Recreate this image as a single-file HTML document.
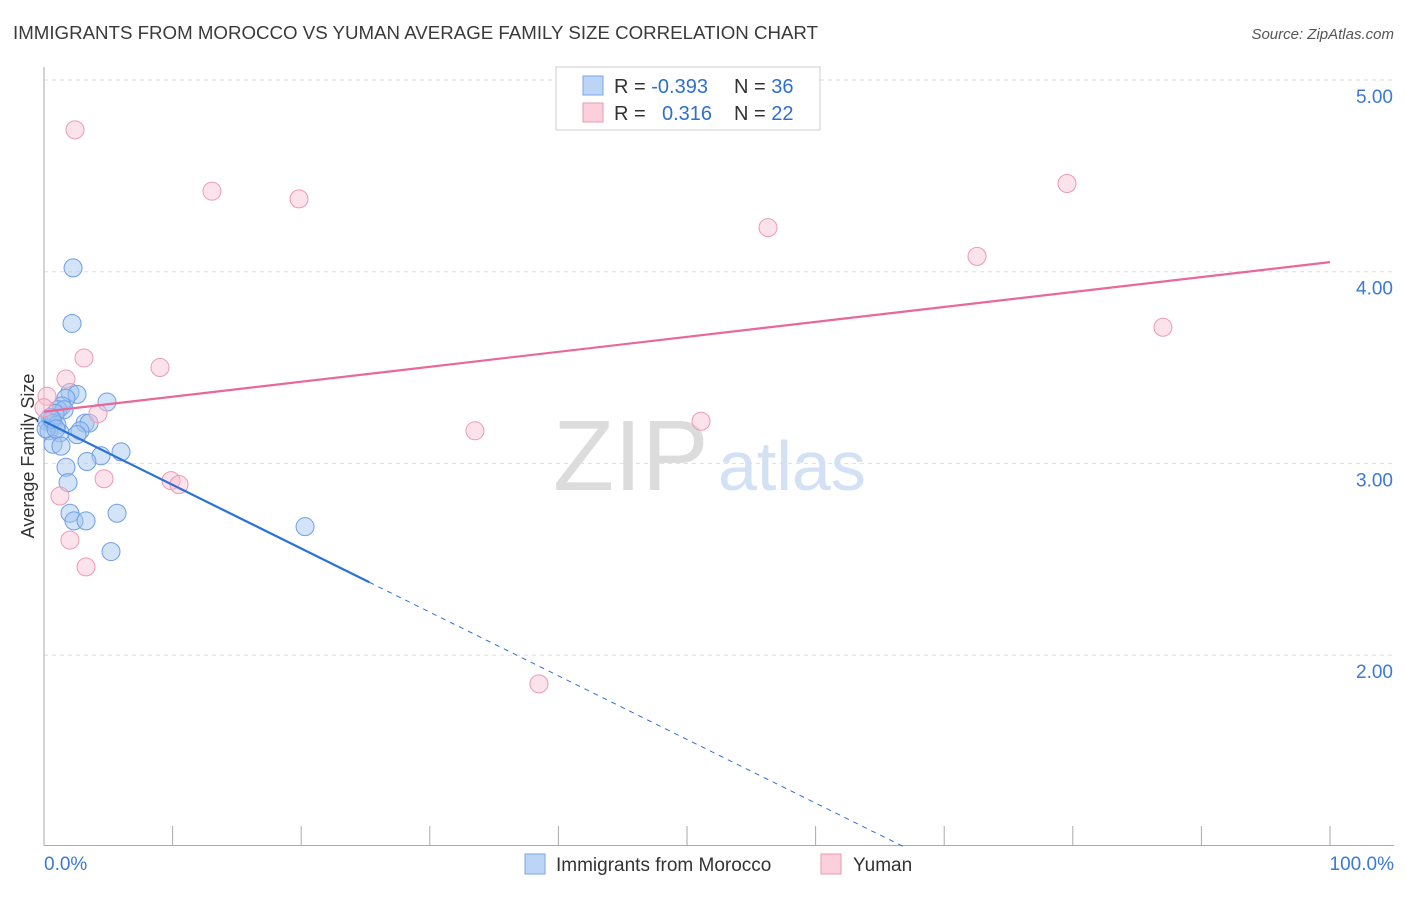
<!DOCTYPE html>
<html><head><meta charset="utf-8"><style>
body{margin:0;background:#fff;font-family:"Liberation Sans",sans-serif;}
svg text{font-family:"Liberation Sans",sans-serif;}
</style></head><body>
<svg id="chart" width="1406" height="892" xmlns="http://www.w3.org/2000/svg">
<text x="13" y="39" font-size="18" fill="#3a3a3a" textLength="805" lengthAdjust="spacingAndGlyphs">IMMIGRANTS FROM MOROCCO VS YUMAN AVERAGE FAMILY SIZE CORRELATION CHART</text>
<text x="1394" y="39" font-size="15" fill="#555" font-style="italic" text-anchor="end">Source: ZipAtlas.com</text>
<text x="553" y="490" font-size="100" fill="#dcdcdc" font-family="Liberation Serif">ZIP</text>
<text x="718" y="490" font-size="70" fill="#d2e1f3">atlas</text>
<g id="grid"></g>
<g id="axes"></g>
<g id="marks"></g>
<text transform="translate(34,456) rotate(-90)" font-size="18" fill="#333" text-anchor="middle">Average Family Size</text>
<g>
<rect x="556" y="67" width="264" height="63" fill="#fff" stroke="#ccc"/>
<rect x="583" y="76" width="20" height="19" fill="#bcd5f6" stroke="#7aa6e6"/>
<rect x="583" y="103" width="20" height="19" fill="#fbcfdc" stroke="#ee9ab4"/>
<text x="614" y="93" font-size="20" fill="#333">R = <tspan fill="#2f6fd0">-0.393</tspan><tspan x="734">N = </tspan><tspan fill="#2f6fd0">36</tspan></text>
<text x="614" y="120" font-size="20" fill="#333">R = <tspan x="662" fill="#2f6fd0">0.316</tspan><tspan x="734">N = </tspan><tspan fill="#2f6fd0">22</tspan></text>
</g>
<g>
<rect x="525" y="854" width="20" height="20" fill="#bcd5f6" stroke="#7aa6e6"/>
<text x="556" y="871" font-size="19" fill="#333">Immigrants from Morocco</text>
<rect x="821" y="854" width="20" height="20" fill="#fbcfdc" stroke="#ee9ab4"/>
<text x="853" y="871" font-size="19" fill="#333">Yuman</text>
</g>
</svg>
<script>
const yTicks=[2,3,4,5];
const yTickLabels=["2.00","3.00","4.00","5.00"];
const xTicks=[0,10,20,30,40,50,60,70,80,90,100];
const blueX=[2.26,2.18,2.02,2.57,4.90,1.71,1.40,1.09,1.56,0.86,0.47,0.23,0.70,1.01,0.39,1.24,3.19,3.50,2.80,2.57,0.70,1.32,5.99,4.43,3.34,1.71,1.87,2.02,2.33,3.27,5.68,5.21,20.3,0.16,0.62,0.93];
const blueY=[4.02,3.73,3.37,3.36,3.32,3.34,3.30,3.28,3.28,3.26,3.24,3.22,3.21,3.20,3.17,3.16,3.21,3.21,3.17,3.15,3.10,3.09,3.06,3.04,3.01,2.98,2.90,2.74,2.70,2.70,2.74,2.54,2.67,3.18,3.23,3.18];
const pinkX=[2.41,13.06,19.83,79.55,56.30,72.55,87.01,3.11,9.02,1.71,0.23,4.20,51.09,33.51,4.67,9.88,10.50,1.24,2.02,3.27,38.49,0.0];
const pinkY=[4.74,4.42,4.38,4.46,4.23,4.08,3.71,3.55,3.50,3.44,3.35,3.26,3.22,3.17,2.92,2.91,2.89,2.83,2.60,2.46,1.85,3.29];
const blueTrend=[3.22,-0.0332,25.3]; // intercept, slope, solid end x
const pinkTrend=[3.27,0.0078];
const NS="http://www.w3.org/2000/svg";
const X=v=>44+v*12.86, Y=v=>80+(5-v)*191.7;
function mk(tag,at,parent){const e=document.createElementNS(NS,tag);for(const k in at)e.setAttribute(k,at[k]);document.getElementById(parent).appendChild(e);return e;}
yTicks.forEach((t,i)=>{
 const g=mk('line',{x1:44,x2:1394,y1:Y(t),y2:Y(t),stroke:'#ddd','stroke-dasharray':'4,4'},'grid');
 
 
 const l=mk('text',{x:1393,y:Y(t)+23,'font-size':19,fill:'#3b78d8','text-anchor':'end'},'axes');
 l.textContent=yTickLabels[i];
 
 
});
const ya=mk('line',{x1:44,x2:44,y1:67,y2:846,stroke:'#aaa'},'axes');


const xa=mk('line',{x1:44,x2:1394,y1:845.5,y2:845.5,stroke:'#aaa'},'axes');


xTicks.forEach(t=>{if(t===0)return;
 const k=mk('line',{x1:X(t),x2:X(t),y1:826,y2:845,stroke:'#aaa'},'axes');
 
 
});
[['0.0%',44,'start'],['100.0%',1394,'end']].forEach(a=>{
 const t=mk('text',{x:a[1],y:870,'font-size':19,fill:'#3b78d8','text-anchor':a[2]},'axes');t.textContent=a[0];
 
 
});
blueX.forEach((x,i)=>{
 const c=mk('circle',{cx:X(x),cy:Y(blueY[i]),r:9,fill:'rgba(160,195,240,0.45)',stroke:'#6d9ee6','stroke-width':1},'marks');
 
 
});
pinkX.forEach((x,i)=>{
 const c=mk('circle',{cx:X(x),cy:Y(pinkY[i]),r:9,fill:'rgba(248,190,208,0.45)',stroke:'#ee9ab4','stroke-width':1},'marks');
 
 
});
const bEnd=blueTrend[2], bZero=(1-blueTrend[0])/blueTrend[1];
const bl=mk('line',{x1:X(0),y1:Y(blueTrend[0]),x2:X(bEnd),y2:Y(blueTrend[0]+blueTrend[1]*bEnd),stroke:'#2a72d8','stroke-width':2.2},'marks');


const bd=mk('line',{x1:X(bEnd),y1:Y(blueTrend[0]+blueTrend[1]*bEnd),x2:X(bZero),y2:Y(1),stroke:'#2a72d8','stroke-width':1,'stroke-dasharray':'5,5'},'marks');


const pl=mk('line',{x1:X(0),y1:Y(pinkTrend[0]),x2:X(100),y2:Y(pinkTrend[0]+pinkTrend[1]*100),stroke:'#e8689a','stroke-width':2.2},'marks');


</script>
</body></html>
